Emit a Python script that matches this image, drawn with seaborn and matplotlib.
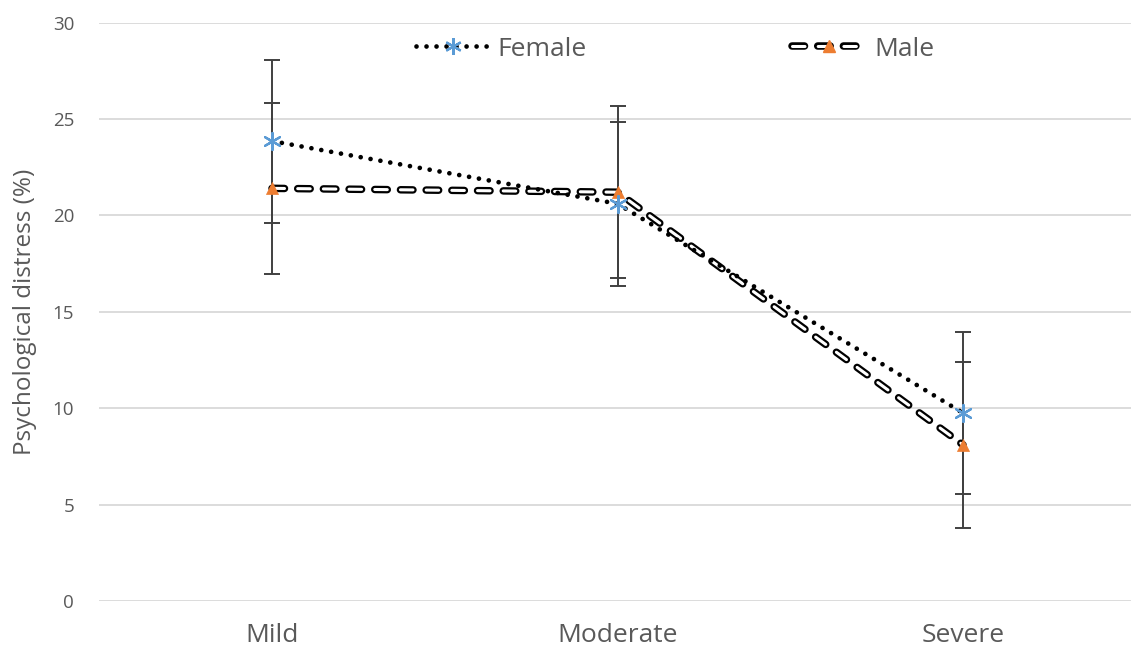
import matplotlib
matplotlib.use("Agg")
import matplotlib.pyplot as plt
import matplotlib.patheffects as pe
import seaborn as sns
import pandas as pd
from matplotlib.lines import Line2D
from matplotlib.legend_handler import HandlerTuple

severity = ["Mild", "Moderate", "Severe"]
female_vals = [23.85, 20.6, 9.75]
female_err = [4.23, 4.25, 4.22]
male_vals = [21.4, 21.2, 8.1]
male_err = [4.45, 4.45, 4.3]
y_ticks = [0, 5, 10, 15, 20, 25, 30]
y_label = "Psychological distress (%)"

df = pd.DataFrame({
    "Severity": severity * 2,
    "Sex": ["Female"] * 3 + ["Male"] * 3,
    "Value": female_vals + male_vals,
    "Err": female_err + male_err,
})

sns.set_theme(style="white")
plt.rcParams["font.family"] = ["Open Sans", "DejaVu Sans"]
plt.rcParams["lines.scale_dashes"] = False

W, H = 1131, 653
fig = plt.figure(figsize=(W / 100, H / 100), dpi=100)
ax = fig.add_axes([99.25 / W, (H - 601) / H, 1036.5 / W, 578.5 / H])

BLUE = "#5B9BD5"
ORANGE = "#ED7D31"
STAR = (6, 2, 0)
MALE_LS = (0, (9, 9.5))
FEM_LS = (0, (0.01, 7.2))
male_pe = [pe.Stroke(linewidth=5.4, foreground="black"), pe.Normal()]

fem = df[df.Sex == "Female"]
mal = df[df.Sex == "Male"]

# error bars
for sub in (mal, fem):
    ax.errorbar(sub.Severity, sub.Value, yerr=sub.Err, fmt="none",
                ecolor="#404040", elinewidth=1.4, capsize=5.5, capthick=1.4, zorder=2)

# male outlined dashed line
sns.lineplot(data=mal, x="Severity", y="Value", ax=ax, color="white", lw=2.2,
             linestyle=MALE_LS, dash_capstyle="round", sort=False, zorder=3,
             path_effects=male_pe)
# female dotted line
sns.lineplot(data=fem, x="Severity", y="Value", ax=ax, color="black", lw=3.4,
             linestyle=FEM_LS, dash_capstyle="round", sort=False, zorder=3.2)

# markers
sns.scatterplot(data=mal, x="Severity", y="Value", ax=ax, marker="^", s=75,
                color=ORANGE, edgecolor=ORANGE, linewidth=0.5, zorder=5)
sns.scatterplot(data=fem, x="Severity", y="Value", ax=ax, marker=STAR, s=150,
                color=BLUE, edgecolor=BLUE, linewidth=1.6, zorder=5)

ax.set_xlim(-0.5, 2.5)
ax.set_ylim(0, 30)
ax.set_yticks(y_ticks)
ax.set_yticklabels([str(t) for t in y_ticks])
ax.grid(axis="y", color="#d9d9d9", lw=1.3)
ax.set_axisbelow(True)
for s in ax.spines.values():
    s.set_visible(False)
ax.tick_params(axis="x", length=0, pad=16, labelsize=19, labelcolor="#595959")
ax.tick_params(axis="y", length=0, pad=18, labelsize=13.5, labelcolor="#595959")
ax.set_xlabel("")
ax.set_ylabel(y_label, fontsize=17.5, color="#595959")
ax.yaxis.set_label_coords(-62 / 1036.5, 0.5)

# legend
h_f = Line2D([], [], color="black", lw=3.4, linestyle=FEM_LS,
             dash_capstyle="round", marker=STAR, markersize=12,
             markerfacecolor=BLUE, markeredgecolor=BLUE, markeredgewidth=1.6)
h_m_line = Line2D([], [], color="white", lw=2.2, linestyle=MALE_LS,
                  dash_capstyle="round", path_effects=male_pe)
h_m_mk = Line2D([], [], ls="none", marker="^", markersize=8.5, color=ORANGE)
leg = ax.legend([h_f, (h_m_line, h_m_mk)], ["Female", "Male"],
                handler_map={tuple: HandlerTuple(ndivide=1, pad=0)},
                loc="center", bbox_to_anchor=(675 / W, (H - 49) / H),
                bbox_transform=fig.transFigure, ncol=2, frameon=False,
                fontsize=19, handlelength=2.8, handletextpad=0.3,
                columnspacing=7.8, labelcolor="#595959")

fig.savefig("out.png", dpi=100)
